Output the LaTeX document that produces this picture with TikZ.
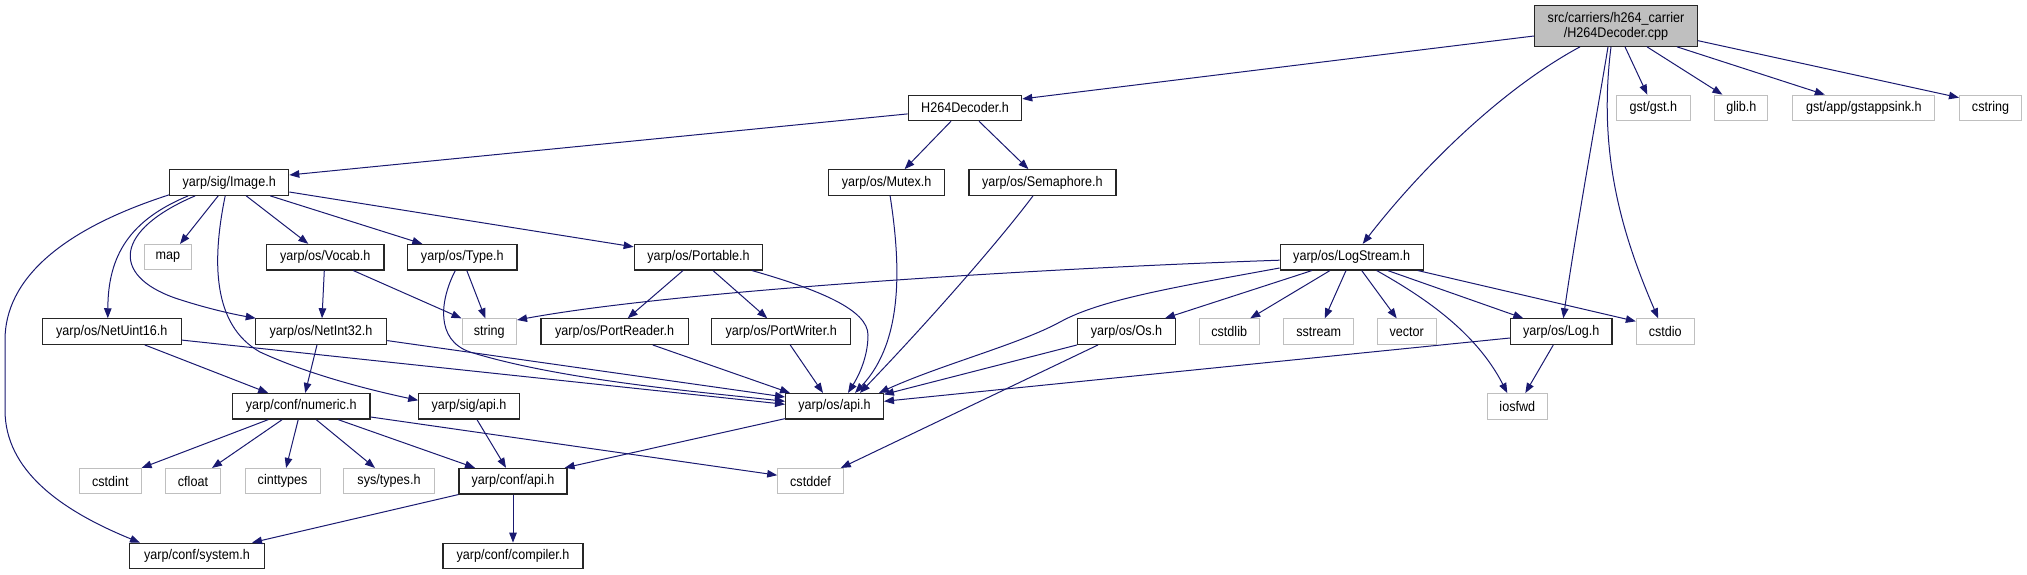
\documentclass[tikz,border=0pt]{standalone}
\usepackage{fontspec}
\setmainfont[FakeStretch=0.9]{Liberation Sans}
\usetikzlibrary{arrows.meta}
\definecolor{edgecol}{HTML}{191970}
\definecolor{grayline}{HTML}{BFBFBF}
\definecolor{mainfill}{HTML}{BFBFBF}
\begin{document}
\begin{tikzpicture}[x=1pt,y=-1pt,
  every node/.style={font=\fontsize{14}{15}\selectfont, inner sep=0pt, minimum height=25.5pt, anchor=center},
  doc/.style={draw=black!85, line width=1.2pt},
  ext/.style={draw=grayline, line width=1pt},
  mainbox/.style={draw=black!85, line width=1.2pt, fill=mainfill, minimum height=40.5pt, align=center},
  edge/.style={draw=edgecol, line width=1pt, -{Triangle[length=10pt,width=7.5pt]}},
]
\useasboundingbox (0,0) rectangle (2027,575);
% row 0
\node[mainbox, minimum width=163pt] (main) at (1616,26) {src/carriers/h264\_carrier\\/H264Decoder.cpp};
% row 1
\node[doc, minimum width=113.4pt] (h264) at (965,107.9) {H264Decoder.h};
\node[ext, minimum width=74pt] (gst) at (1653.3,107.9) {gst/gst.h};
\node[ext, minimum width=53pt] (glib) at (1741.4,107.9) {glib.h};
\node[ext, minimum width=142pt] (appsink) at (1863.8,107.9) {gst/app/gstappsink.h};
\node[ext, minimum width=62pt] (cstring) at (1990.5,107.9) {cstring};
% row 2
\node[doc, minimum width=119pt] (image) at (229.2,182.5) {yarp/sig/Image.h};
\node[doc, minimum width=116pt] (mutex) at (886.6,182.5) {yarp/os/Mutex.h};
\node[doc, minimum width=147pt] (sema) at (1042.4,182.5) {yarp/os/Semaphore.h};
% row 3
\node[ext, minimum width=47pt] (map) at (168,257.2) {map};
\node[doc, minimum width=117.3pt] (vocab) at (325.3,257.2) {yarp/os/Vocab.h};
\node[doc, minimum width=109.4pt] (type) at (462.3,257.2) {yarp/os/Type.h};
\node[doc, minimum width=128.5pt] (portable) at (698.5,257.2) {yarp/os/Portable.h};
\node[doc, minimum width=143pt] (logstream) at (1351.7,257.2) {yarp/os/LogStream.h};
% row 4
\node[doc, minimum width=139pt] (netuint) at (111.8,331.6) {yarp/os/NetUint16.h};
\node[doc, minimum width=131.3pt] (netint) at (321,331.6) {yarp/os/NetInt32.h};
\node[ext, minimum width=54.5pt] (string) at (489.3,331.6) {string};
\node[doc, minimum width=147.3pt] (preader) at (614.7,331.6) {yarp/os/PortReader.h};
\node[doc, minimum width=139pt] (pwriter) at (781.2,331.6) {yarp/os/PortWriter.h};
\node[doc, minimum width=97.7pt] (os) at (1126.5,331.6) {yarp/os/Os.h};
\node[ext, minimum width=60.3pt] (cstdlib) at (1229.2,331.6) {cstdlib};
\node[ext, minimum width=70pt] (sstream) at (1318.7,331.6) {sstream};
\node[ext, minimum width=59.3pt] (vector) at (1406.7,331.6) {vector};
\node[doc, minimum width=101.4pt] (log) at (1561.3,331.6) {yarp/os/Log.h};
\node[ext, minimum width=57.7pt] (cstdio) at (1665.2,331.6) {cstdio};
% row 5
\node[doc, minimum width=137.7pt] (numeric) at (301.2,406.3) {yarp/conf/numeric.h};
\node[doc, minimum width=100.5pt] (sigapi) at (469,406.3) {yarp/sig/api.h};
\node[doc, minimum width=97.7pt] (osapi) at (834.5,406.3) {yarp/os/api.h};
\node[ext, minimum width=60pt] (iosfwd) at (1517.3,406.3) {iosfwd};
% row 6
\node[ext, minimum width=61.6pt] (cstdint) at (110.3,481.2) {cstdint};
\node[ext, minimum width=55pt] (cfloat) at (193,481.2) {cfloat};
\node[ext, minimum width=75pt] (cinttypes) at (282.6,481.2) {cinttypes};
\node[ext, minimum width=90.6pt] (systypes) at (389,481.2) {sys/types.h};
\node[doc, minimum width=108pt] (confapi) at (513,481.2) {yarp/conf/api.h};
\node[ext, minimum width=65.6pt] (cstddef) at (810.5,481.2) {cstddef};
% row 7
\node[doc, minimum width=135pt] (system) at (197,556) {yarp/conf/system.h};
\node[doc, minimum width=140pt] (compiler) at (513,556) {yarp/conf/compiler.h};

% edges from main
\draw[edge] ([yshift=-10pt]main.west) -- ([yshift=9pt]h264.east);
\draw[edge] ([xshift=9pt]main.south) -- ([xshift=-6pt]gst.north);
\draw[edge] ([xshift=31pt]main.south) -- ([xshift=-19pt]glib.north);
\draw[edge] ([xshift=61pt]main.south) -- ([xshift=-39pt]appsink.north);
\draw[edge] ([yshift=-14.7pt]main.east) -- ([yshift=-3pt]cstring.north west);
\draw[edge] ([xshift=-36pt]main.south) .. controls (1500,90) and (1420,170) .. ([xshift=11pt]logstream.north);
\draw[edge] ([xshift=-8pt]main.south) .. controls (1596,120) and (1576,230) .. ([xshift=2pt]log.north);
\draw[edge] ([xshift=-5pt]main.south) .. controls (1598,150) and (1620,230) .. ([xshift=-7pt]cstdio.north);
% H264Decoder.h
\draw[edge] ([yshift=-6pt]h264.west) -- ([yshift=7.5pt]image.east);
\draw[edge] ([xshift=-14pt]h264.south) -- ([xshift=18pt]mutex.north);
\draw[edge] ([xshift=14pt]h264.south) -- ([xshift=-14pt]sema.north);
% Image.h
\draw[edge] ([xshift=-11pt]image.south) -- ([xshift=12pt]map.north);
\draw[edge] ([xshift=17pt]image.south) -- ([xshift=-17pt]vocab.north);
\draw[edge] ([xshift=41pt]image.south) -- ([xshift=-40pt]type.north);
\draw[edge] ([yshift=-9.5pt]image.east) -- ([yshift=-3pt]portable.north west);
\draw[edge] ([xshift=-41pt]image.south) .. controls (130,220) and (108,255) .. ([xshift=-4pt]netuint.north);
\draw[edge] ([xshift=-34pt]image.south) .. controls (115,230) and (110,275) .. (175,298) .. controls (205,308) and (232,314) .. ([xshift=1pt]netint.north west);
\draw[edge] ([xshift=-4pt]image.south) .. controls (212,260) and (212,325) .. (260,352) .. controls (310,375) and (370,390) .. ([yshift=6pt]sigapi.west);
\draw[edge] ([yshift=1pt]image.south west) .. controls (60,230) and (5,280) .. (5,340) -- (5,410) .. controls (5,470) and (60,510) .. ([xshift=-57pt]system.north);
% Vocab, Type, Portable
\draw[edge] ([xshift=-1pt]vocab.south) -- ([xshift=1pt]netint.north);
\draw[edge] ([xshift=28pt]vocab.south) -- (string.north west);
\draw[edge] ([xshift=4.5pt]type.south) -- ([xshift=-4pt]string.north);
\draw[edge] ([xshift=-7pt]type.south) .. controls (440,300) and (435,340) .. (470,352) .. controls (560,380) and (700,392) .. ([yshift=5pt]osapi.west);
\draw[edge] ([xshift=-15.5pt]portable.south) -- ([xshift=13pt]preader.north);
\draw[edge] ([xshift=14.5pt]portable.south) -- ([xshift=-14pt]pwriter.north);
\draw[edge] ([xshift=53.5pt]portable.south) .. controls (820,290) and (868,310) .. (868,335) .. controls (868,360) and (856,380) .. ([xshift=13.5pt]osapi.north);
% Mutex, Semaphore
\draw[edge] ([xshift=3.5pt]mutex.south) .. controls (900,260) and (905,340) .. ([xshift=20.5pt]osapi.north);
\draw[edge] ([xshift=-9.4pt]sema.south) .. controls (1000,240) and (930,320) .. ([xshift=25.5pt]osapi.north);
% LogStream
\draw[edge] ([yshift=-3pt]logstream.west) .. controls (1050,268) and (680,290) .. ([yshift=11.6pt]string.east);
\draw[edge] ([yshift=-10.8pt]logstream.west) .. controls (1170,288) and (1100,300) .. (1060,322) .. controls (1020,344) and (940,365) .. ([xshift=-5pt]osapi.north east);
\draw[edge] ([xshift=-39.7pt]logstream.south) -- ([xshift=38.5pt]os.north);
\draw[edge] ([xshift=-21.7pt]logstream.south) -- ([xshift=21pt]cstdlib.north);
\draw[edge] ([xshift=-5.7pt]logstream.south) -- ([xshift=6pt]sstream.north);
\draw[edge] ([xshift=10pt]logstream.south) -- ([xshift=-10pt]vector.north);
\draw[edge] ([xshift=25pt]logstream.south) .. controls (1420,295) and (1475,330) .. ([xshift=-10pt]iosfwd.north);
\draw[edge] ([xshift=36pt]logstream.south) -- ([xshift=-38pt]log.north);
\draw[edge] ([xshift=-6pt]logstream.south east) -- ([yshift=-3pt]cstdio.north west);
% row 4 sources
\draw[edge] ([xshift=33pt]netuint.south) -- ([xshift=-33pt]numeric.north);
\draw[edge] ([yshift=-8.5pt]netuint.east) -- ([yshift=2pt]osapi.west);
\draw[edge] ([xshift=-4pt]netint.south) -- ([xshift=4pt]numeric.north);
\draw[edge] ([yshift=-9pt]netint.east) -- ([yshift=9.3pt]osapi.west);
\draw[edge] ([xshift=38pt]preader.south) -- ([xshift=-44.5pt]osapi.north);
\draw[edge] ([xshift=9pt]pwriter.south) -- ([xshift=-11.5pt]osapi.north);
\draw[edge] (os.south west) -- ([yshift=-1.5pt]osapi.north east);
\draw[edge] ([xshift=-28.5pt]os.south) -- ([xshift=-3pt]cstddef.north east);
\draw[edge] ([yshift=-6.4pt]log.west) -- ([yshift=5pt]osapi.east);
\draw[edge] ([xshift=-8pt]log.south) -- ([xshift=8pt]iosfwd.north);
% numeric
\draw[edge] ([xshift=-33pt]numeric.south) -- (cstdint.north east);
\draw[edge] ([xshift=-19pt]numeric.south) -- ([xshift=19pt]cfloat.north);
\draw[edge] ([xshift=-3pt]numeric.south) -- ([xshift=3.5pt]cinttypes.north);
\draw[edge] ([xshift=15pt]numeric.south) -- ([xshift=-14pt]systypes.north);
\draw[edge] ([xshift=37pt]numeric.south) -- ([xshift=-38pt]confapi.north);
\draw[edge] ([yshift=-10.7pt]numeric.east) -- ([yshift=6pt]cstddef.west);
% api headers
\draw[edge] ([xshift=8pt]sigapi.south) -- ([xshift=-7pt]confapi.north);
\draw[edge] ([yshift=1pt]osapi.south west) -- ([xshift=-3pt]confapi.north east);
\draw[edge] (confapi.south west) -- ([xshift=55pt]system.north);
\draw[edge] (confapi.south) -- (compiler.north);
\end{tikzpicture}
\end{document}
